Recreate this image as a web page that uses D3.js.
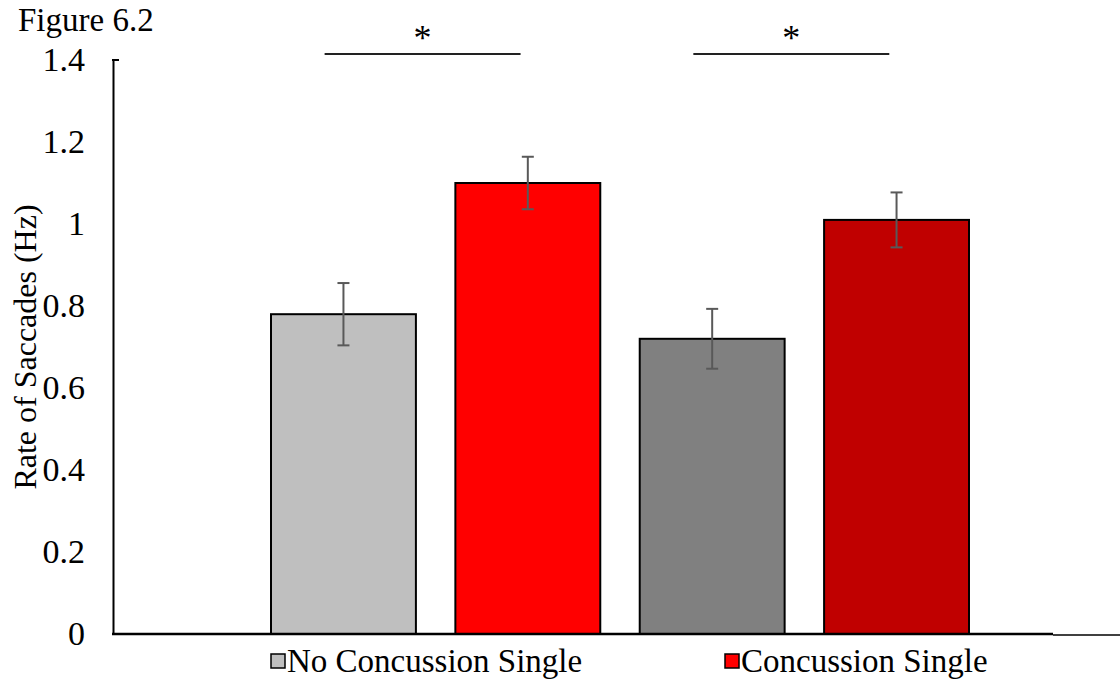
<!DOCTYPE html>
<html>
<head>
<meta charset="utf-8">
<script src="https://cdn.jsdelivr.net/npm/d3@7"></script>
<style>
  body { margin: 0; background: #fff; }
  svg text { font-family: "Liberation Serif", "Times New Roman", serif; fill: #000; }
</style>
</head>
<body>
<svg class="chart" width="1120" height="680"></svg>
<script>
// data
let bars = ['NC1', 'C1', 'NC2', 'C2'];
let values = [0.78, 1.10, 0.72, 1.01];
let errors = [0.076, 0.064, 0.073, 0.067];
let colors = ['#bfbfbf', '#ff0000', '#808080', '#c00000'];
let yTicks = [0, 0.2, 0.4, 0.6, 0.8, 1, 1.2, 1.4];
let legendNames = ['No Concussion Single', 'Concussion Single'];
let legendColors = ['#bfbfbf', '#ff0000'];
let sigPairs = [['NC1', 'C1'], ['NC2', 'C2']];

let svg = d3.select('.chart');

let x = d3.scaleBand()
    .domain(bars)
    .range([271, 969])
    .paddingInner(0.214);

let y = d3.scaleLinear()
    .domain([0, 1.4])
    .range([634, 60]);

// title
svg.append('text')
    .attr('x', 18).attr('y', 31)
    .style('font-size', '33px')
    .text('Figure 6.2');

// y axis
let yAxis = d3.axisLeft(y)
    .tickValues(yTicks)
    .tickSize(0)
    .tickPadding(28)
    .tickFormat(d => d3.format('')(+d.toFixed(1)));

let yg = svg.append('g')
    .attr('transform', 'translate(113,0)')
    .call(yAxis);
yg.select('.domain').attr('stroke', '#000').attr('stroke-width', 2);
yg.selectAll('text')
    .style('font-size', '34px')
    .style('font-family', '"Liberation Serif", serif');

// top cap of axis
svg.append('line')
    .attr('x1', 112).attr('x2', 119)
    .attr('y1', y(1.4)).attr('y2', y(1.4))
    .attr('stroke', '#000').attr('stroke-width', 2);

svg.append('text')
    .attr('transform', 'translate(36,' + (y(0.7)) + ') rotate(-90)')
    .attr('text-anchor', 'middle')
    .style('font-size', '32px')
    .text('Rate of Saccades (Hz)');

// bars
svg.selectAll('rect.bar')
    .data(bars)
  .enter().append('rect')
    .attr('class', 'bar')
    .attr('x', d => x(d))
    .attr('y', (d, i) => y(values[i]))
    .attr('width', x.bandwidth())
    .attr('height', (d, i) => y(0) - y(values[i]))
    .attr('fill', (d, i) => colors[i])
    .attr('stroke', '#000')
    .attr('stroke-width', 2);

// error bars
let eb = svg.selectAll('g.err')
    .data(bars)
  .enter().append('g')
    .attr('class', 'err')
    .attr('stroke', '#595959')
    .attr('stroke-width', 2);

eb.append('line')
    .attr('x1', d => x(d) + x.bandwidth() / 2)
    .attr('x2', d => x(d) + x.bandwidth() / 2)
    .attr('y1', (d, i) => y(values[i] + errors[i]))
    .attr('y2', (d, i) => y(values[i] - errors[i]));
[1, -1].forEach(s => {
  eb.append('line')
      .attr('x1', d => x(d) + x.bandwidth() / 2 - 6)
      .attr('x2', d => x(d) + x.bandwidth() / 2 + 6)
      .attr('y1', (d, i) => y(values[i] + s * errors[i]))
      .attr('y2', (d, i) => y(values[i] + s * errors[i]));
});

// x axis line
svg.append('line')
    .attr('x1', 112).attr('x2', 1053)
    .attr('y1', y(0)).attr('y2', y(0))
    .attr('stroke', '#000').attr('stroke-width', 2.5);
svg.append('line')
    .attr('x1', 1053).attr('x2', 1120)
    .attr('y1', y(0) + 1).attr('y2', y(0) + 1)
    .attr('stroke', '#000').attr('stroke-width', 1.5);

// significance markers
sigPairs.forEach(p => {
  let x1 = x(p[0]) + x.bandwidth() * 0.37;
  let x2 = x(p[1]) + x.bandwidth() * 0.45;
  svg.append('line')
      .attr('x1', x1).attr('x2', x2)
      .attr('y1', 54).attr('y2', 54)
      .attr('stroke', '#222').attr('stroke-width', 2);
  svg.append('text')
      .attr('x', (x1 + x2) / 2)
      .attr('y', 50)
      .attr('text-anchor', 'middle')
      .style('font-size', '36px')
      .text('*');
});

// legend
let legendX = [270, 724];
let lg = svg.selectAll('g.legend')
    .data(legendNames)
  .enter().append('g')
    .attr('class', 'legend')
    .attr('transform', (d, i) => 'translate(' + legendX[i] + ',0)');

lg.append('rect')
    .attr('x', 1).attr('y', 654)
    .attr('width', 14).attr('height', 14)
    .attr('fill', (d, i) => legendColors[i])
    .attr('stroke', '#000').attr('stroke-width', 1.5);

lg.append('text')
    .attr('x', 17).attr('y', 672)
    .style('font-size', '33px')
    .text(d => d);
</script>
</body>
</html>
